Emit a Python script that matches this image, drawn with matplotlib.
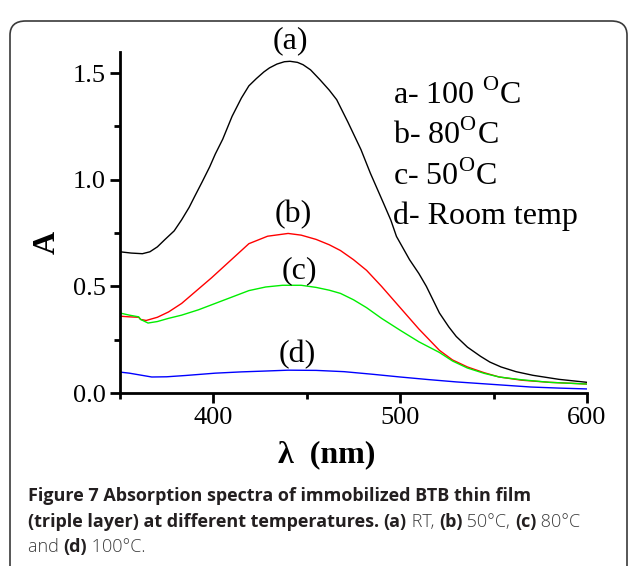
import matplotlib
matplotlib.use("Agg")
import matplotlib.pyplot as plt
from matplotlib.patches import FancyBboxPatch
from matplotlib.ticker import MultipleLocator

plt.rcParams['font.family'] = ['Liberation Serif', 'DejaVu Serif']
plt.rcParams['mathtext.fontset'] = 'custom'
plt.rcParams['mathtext.rm'] = 'Liberation Serif'

# ---- data ----
lam_a = [350, 356, 362, 366, 370, 374, 379, 383, 387, 390, 394, 398, 401, 405, 410, 415, 419, 423,
         427, 430, 434, 438, 441, 445, 448, 452, 457, 462, 466, 472, 479, 484, 491, 495, 498, 505,
         510, 514, 521, 526, 530, 536, 543, 548, 554, 562, 571, 585, 600]
abs_a = [0.662, 0.656, 0.653, 0.662, 0.685, 0.719, 0.76, 0.812, 0.87, 0.922, 0.99, 1.06, 1.12, 1.19,
         1.297, 1.383, 1.44, 1.474, 1.505, 1.524, 1.542, 1.553, 1.555, 1.55, 1.539, 1.515, 1.469,
         1.42, 1.375, 1.27, 1.141, 1.031, 0.891, 0.81, 0.734, 0.625, 0.56, 0.5, 0.375, 0.31, 0.265,
         0.215, 0.172, 0.145, 0.122, 0.1, 0.083, 0.064, 0.05]

lam_b = [350, 355, 360, 361, 364, 370, 376, 383, 391, 399, 409, 419, 429, 440, 447, 455, 462, 468,
         475, 482, 490, 500, 510, 521, 528, 536, 545, 553, 565, 580, 600]
abs_b = [0.36, 0.357, 0.355, 0.345, 0.34, 0.355, 0.38, 0.42, 0.48, 0.54, 0.62, 0.70, 0.735, 0.748,
         0.74, 0.72, 0.695, 0.668, 0.625, 0.575, 0.50, 0.40, 0.30, 0.20, 0.155, 0.122, 0.095, 0.075,
         0.06, 0.05, 0.042]

lam_c = [350, 355, 360, 361, 365, 370, 376, 383, 392, 401, 410, 419, 428, 437, 447, 455, 462, 468,
         475, 482, 490, 500, 510, 521, 528, 536, 545, 553, 565, 580, 600]
abs_c = [0.375, 0.365, 0.357, 0.345, 0.328, 0.335, 0.35, 0.365, 0.39, 0.42, 0.45, 0.48, 0.497,
         0.505, 0.505, 0.495, 0.482, 0.467, 0.437, 0.40, 0.35, 0.294, 0.24, 0.19, 0.15, 0.117, 0.092,
         0.075, 0.062, 0.05, 0.042]

lam_d = [350, 355, 361, 367, 375, 385, 401, 415, 428, 440, 455, 470, 485, 500, 515, 530, 545, 555,
         570, 585, 600]
abs_d = [0.098, 0.093, 0.084, 0.075, 0.076, 0.082, 0.093, 0.099, 0.103, 0.107, 0.106, 0.10, 0.088,
         0.075, 0.063, 0.052, 0.043, 0.037, 0.028, 0.023, 0.019]

curve_tags = ['(a)', '(b)', '(c)', '(d)']
tag_pos = [(441, 1.65), (443, 0.837), (446, 0.575), (445, 0.178)]
legend_lines = ['a- 100 $^{\\mathrm{O}}$C', 'b- 80$^{\\mathrm{O}}$C', 'c- 50$^{\\mathrm{O}}$C',
                'd- Room temp']

fig = plt.figure(figsize=(6.3, 5.66), dpi=100)

# rounded frame around figure + caption
frame = FancyBboxPatch((10 / 630, -20 / 566), 617 / 630, 545 / 566 + 20 / 566,
                       boxstyle="round,pad=0,rounding_size=0.025", transform=fig.transFigure,
                       fill=False, edgecolor='#3a3a3a', linewidth=1.2)
fig.patches.append(frame)

ax = fig.add_axes([120 / 630, 1 - 393 / 566, 467 / 630, (393 - 51.7) / 566])
ax.plot(lam_a, abs_a, color='black', lw=1.0)
ax.plot(lam_b, abs_b, color='#ff0000', lw=1.0)
ax.plot(lam_c, abs_c, color='#00ee00', lw=1.0)
ax.plot(lam_d, abs_d, color='#0000ff', lw=1.0)

ax.set_xlim(350, 600)
ax.set_ylim(0, 1.6)
ax.xaxis.set_major_locator(MultipleLocator(100))
ax.xaxis.set_minor_locator(MultipleLocator(50))
ax.yaxis.set_major_locator(MultipleLocator(0.5))
ax.yaxis.set_minor_locator(MultipleLocator(0.25))
ax.yaxis.set_major_formatter(plt.FuncFormatter(lambda v, p: f"{v:.1f}"))
for s in ['top', 'right']:
    ax.spines[s].set_visible(False)
for s in ['left', 'bottom']:
    ax.spines[s].set_linewidth(2)
ax.tick_params(which='major', direction='out', length=7, width=2, labelsize=19, pad=3)
ax.tick_params(which='minor', direction='out', length=4, width=2)

# axis titles placed where the reference has them (figure pixels -> fractions)
fig.text(327 / 630, 1 - 455 / 566, 'λ  (nm)', fontsize=23, fontweight='bold',
         ha='center', va='center')
fig.text(47 / 630, 1 - 242 / 566, 'A', fontsize=23, fontweight='bold', rotation=90,
         ha='center', va='center')

for t, (x, y) in zip(curve_tags, tag_pos):
    ax.text(x, y, t, fontsize=23, ha='center', va='center', clip_on=False)

for i, line in enumerate(legend_lines):
    fig.text(393 / 630, 1 - (95 + i * 40.5) / 566, line, fontsize=23, va='center', ha='left')

# caption with mixed bold / light pieces
cap_font = ['Open Sans', 'DejaVu Sans']
cap_size = 13
caption = [
    [("Figure 7 Absorption spectra of immobilized BTB thin film", 'bold')],
    [("(triple layer) at different temperatures. ", 'bold'), ("(a)", 'bold'), (" RT, ", 'light'),
     ("(b)", 'bold'), (" 50°C, ", 'light'), ("(c)", 'bold'), (" 80°C", 'light')],
    [("and ", 'light'), ("(d)", 'bold'), (" 100°C.", 'light')],
]
line_y = [496, 522, 547]

fig.canvas.draw()
renderer = fig.canvas.get_renderer()
for pieces, yy in zip(caption, line_y):
    x = 28
    for txt, wt in pieces:
        col = '#231f20' if wt == 'bold' else '#3c3c3c'
        t = fig.text(x / 630, 1 - yy / 566, txt, fontsize=cap_size, fontweight=wt,
                     family=cap_font, color=col, va='center', ha='left')
        bb = t.get_window_extent(renderer)
        x += bb.width

fig.savefig('out.png', dpi=100)
